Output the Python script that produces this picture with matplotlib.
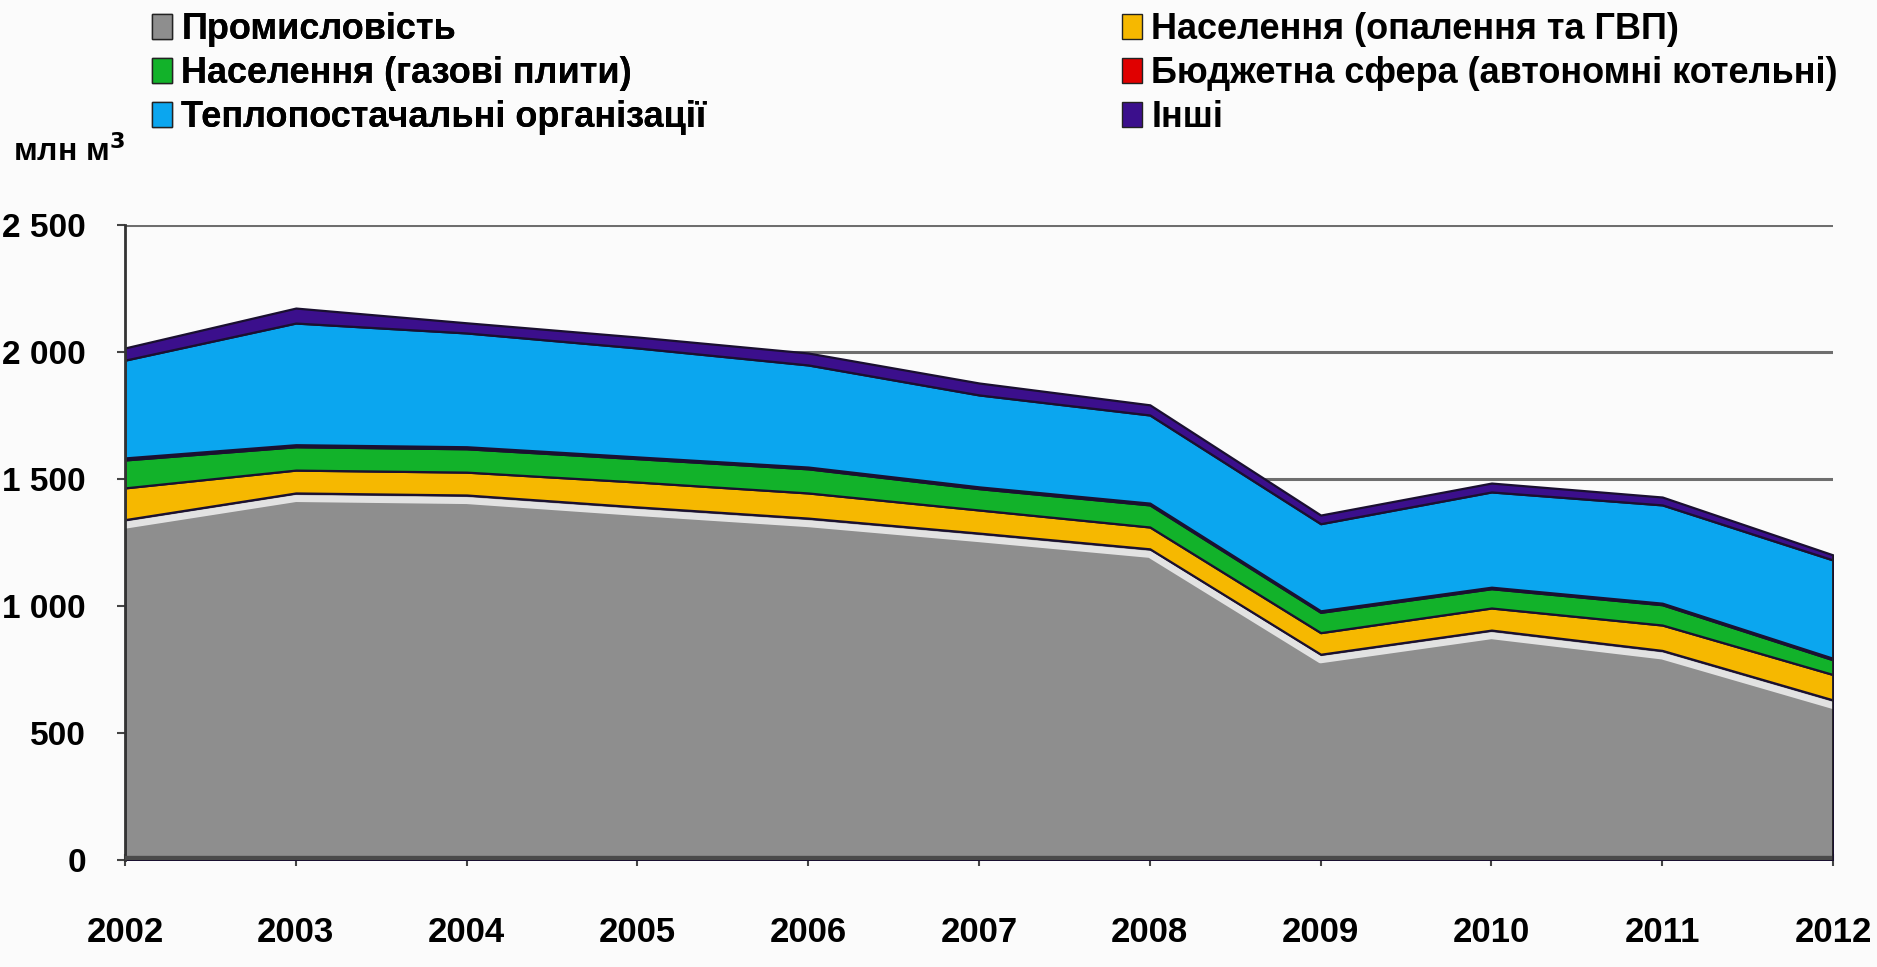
import numpy as np
import matplotlib
matplotlib.use("Agg")
import matplotlib.pyplot as plt
import matplotlib.patches as mpatches
from matplotlib.ticker import FuncFormatter

# ── DATA (млн м³) ─────────────────────────────────────────────────────────
years = [2002, 2003, 2004, 2005, 2006, 2007, 2008, 2009, 2010, 2011, 2012]

industry     = [1340, 1445, 1437, 1390, 1346, 1287, 1225, 810, 905, 825, 630]
pop_heating  = [125, 90, 90, 98, 99, 91, 86, 85, 87, 100, 100]
pop_stoves   = [110, 92, 92, 92, 95, 84, 87, 80, 76, 80, 58]
budget       = [8, 8, 8, 7, 7, 7, 7, 6, 6, 6, 6]
heat_supply  = [385, 479, 448, 429, 402, 362, 347, 343, 375, 387, 387]
others       = [48, 59, 40, 43, 47, 47, 40, 34, 35, 31, 20]

labels = [
    "Промисловість",
    "Населення (опалення та ГВП)",
    "Населення (газові плити)",
    "Бюджетна сфера (автономні котельні)",
    "Теплопостачальні організації",
    "Інші",
]

colors = ["#8e8e8e", "#f6b800", "#12b22a", "#e00000", "#0ba6ef", "#3b0f8c"]

# ── STYLE ─────────────────────────────────────────────────────────────────
plt.rcParams["font.family"] = ["Liberation Sans", "DejaVu Sans"]
plt.rcParams["font.weight"] = "bold"

fig = plt.figure(figsize=(18.77, 9.67), dpi=100)
fig.patch.set_facecolor("#fbfbfb")
ax = fig.add_axes([0.0666, 0.1107, 0.9100, 0.6566])
ax.set_facecolor("#fbfbfb")

x = np.array(years)
series = [industry, pop_heating, pop_stoves, budget, heat_supply, others]
stack = np.vstack(series).astype(float)
tops = np.cumsum(stack, axis=0)
bottoms = np.vstack([np.zeros(len(years)), tops[:-1]])

# gridlines behind areas
for g in [1500, 2000, 2500]:
    ax.axhline(g, color="#6e6e6e", lw=2.2, zorder=1)

for i in range(len(series)):
    ax.fill_between(x, bottoms[i], tops[i], color=colors[i],
                    edgecolor="#1a1030", linewidth=1.6, zorder=2 + i * 0.1)

# soft highlight on the top of the grey layer (3D look)
ax.plot(x, np.array(industry) - 22, color="white", lw=5, alpha=0.75,
        zorder=2.05, solid_joinstyle="round")

# floor band
ax.axhline(0, color="#4a4a4a", lw=6, zorder=3)

# ── AXES ──────────────────────────────────────────────────────────────────
ax.set_xlim(years[0], years[-1])
ax.set_ylim(0, 2500)
ax.set_yticks([0, 500, 1000, 1500, 2000, 2500])
ax.yaxis.set_major_formatter(FuncFormatter(lambda v, p: f"{int(v):,}".replace(",", " ")))
ax.set_xticks(years)
ax.tick_params(axis="y", labelsize=24, length=6, width=1.5, color="#444444", pad=22)
ax.tick_params(axis="x", labelsize=25, length=8, width=1.5, color="#444444",
               direction="inout", pad=36)
for lab in ax.get_xticklabels() + ax.get_yticklabels():
    lab.set_fontweight("bold")

for sp in ["top", "right", "bottom"]:
    ax.spines[sp].set_visible(False)
ax.spines["left"].set_color("#333333")
ax.spines["left"].set_linewidth(2)
ax.vlines(years[-1], 0, tops[-1][-1], color="#222222", lw=2, zorder=4)

fig.text(0.007, 0.843, "млн м$^3$", fontsize=23, fontweight="bold",
         va="center", ha="left")

# ── LEGEND (two blocks of three) ─────────────────────────────────────────
handles = [mpatches.Patch(facecolor=colors[i], edgecolor="#222222",
                          linewidth=1, label=labels[i]) for i in range(6)]
leg_kw = dict(frameon=False, loc="upper left", prop={"weight": "bold", "size": 26},
              handlelength=0.55, handleheight=0.7, handletextpad=0.25,
              labelspacing=0.25)
leg1 = fig.legend(handles=[handles[0], handles[2], handles[4]],
                  bbox_to_anchor=(0.0638, 1.021), **leg_kw)
fig.add_artist(leg1)
fig.legend(handles=[handles[1], handles[3], handles[5]],
           bbox_to_anchor=(0.5807, 1.021), **leg_kw)

fig.savefig("out.png", dpi=100, facecolor=fig.get_facecolor())
